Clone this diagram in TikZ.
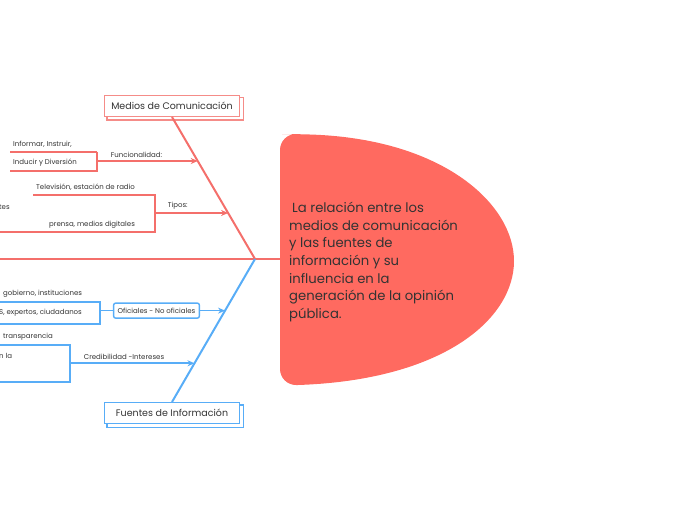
\documentclass[tikz,border=0pt]{standalone}
\usepackage{fontspec}
\setmainfont{Poppins}
\usetikzlibrary{positioning,arrows.meta,calc,backgrounds}
\definecolor{lineR}{HTML}{F46F6B}
\definecolor{boxR}{HTML}{F58C88}
\definecolor{lineB}{HTML}{58ADF7}
\definecolor{fillC}{HTML}{FF6A60}
\definecolor{txt}{HTML}{333333}

\begin{document}
\begin{tikzpicture}[x=1pt,y=-1pt,
  lab/.style={font=\fontsize{7}{8}\selectfont,text=txt,inner sep=0pt},
  cajaR/.style={draw=boxR,line width=1.3pt,fill=white,minimum width=135pt,minimum height=21pt,
    font=\fontsize{9.5}{11}\selectfont,text=txt},
  cajaB/.style={cajaR,draw=lineB},
  lnR/.style={draw=lineR,line width=2pt},
  lnB/.style={draw=lineB,line width=2pt},
  brkR/.style={draw=lineR,line width=1.5pt},
  brkB/.style={draw=lineB,line width=1.5pt},
  arrR/.style={brkR,line width=1.7pt,-{Stealth[length=7pt,width=6pt]}},
  arrB/.style={brkB,line width=1.7pt,-{Stealth[length=7pt,width=6pt]}}]
\useasboundingbox (0,0) rectangle (697,520);

% central topic: flat left side, rounded right side
\fill[fillC] (298,134) .. controls (445,140) and (514,205) .. (514,261)
  .. controls (514,318) and (445,380) .. (298,385)
  [rounded corners=16pt] -- (280,385) -- (280,134) -- cycle;
\node[font=\fontsize{13.2}{17.7}\selectfont,text=txt,align=left,anchor=west,inner sep=0pt]
  (tema) at (289,262) {\hspace{3pt}La relación entre los\\medios de comunicación\\y las fuentes de\\
  información y su\\influencia en la\\generación de la opinión\\pública.};

% spine
\coordinate (inicio) at (0,259);
\coordinate (junta) at (255,259);
\coordinate (cen) at (280,259);
\draw[draw=lineR,line width=2.6pt] (inicio) -- (cen);

% main branches
\node[cajaR,anchor=south] (medios) at (172,117) {Medios de Comunicación};
\node[cajaB,anchor=north] (fuentes) at (172,402) {Fuentes de Información};
\begin{scope}[on background layer]
  \foreach \n/\c in {medios/boxR,fuentes/lineB}
    \draw[draw=\c,line width=1.3pt,fill=white] ([shift={(3,3)}]\n.north west) rectangle ([shift={(3,3)}]\n.south east);
\end{scope}
\draw[lnR] (medios.south) -- (junta);
\draw[lnB] (fuentes.north) -- (junta);

% points on the diagonals
\coordinate (f1) at ($(medios.south)!0.310!(junta)$);
\coordinate (t1) at ($(medios.south)!0.676!(junta)$);
\coordinate (o1) at ($(junta)!0.361!(fuentes.north)$);
\coordinate (c1) at ($(junta)!0.729!(fuentes.north)$);

% Funcionalidad
\coordinate (b1) at (97,0 |- f1);
\draw[brkR] ([yshift=9pt]b1) -| ([yshift=-10pt]b1) -- ([xshift=-87pt,yshift=-10pt]b1);
\draw[brkR] ([yshift=9pt]b1) -- ([xshift=-87pt,yshift=9pt]b1);
\draw[arrR] (b1) -- (f1) node[lab,pos=0,anchor=south west,xshift=13pt,yshift=2.5pt] {Funcionalidad:};
\node[lab,anchor=west] (inf) at (13,144) {Informar, Instruir,};
\node[lab,anchor=west] (ind) at (13,163) {Inducir y Diversión};

% Tipos
\coordinate (b2) at (155,0 |- t1);
\draw[brkR] (33,195) -| (155,232) -- (-2,232);
\draw[arrR] (b2) -- (t1) node[lab,pos=0,anchor=south west,xshift=12pt,yshift=2.5pt] {Tipos:};
\node[lab,anchor=west] (tel) at (36,187) {Televisión, estación de radio};
\node[lab,anchor=west] (tes) at (-1,207) {tes};
\node[lab,anchor=west] (pre) at (49,225) {prensa, medios digitales};

% Oficiales - No oficiales
\draw[brkB] (-2,302) -| (100,324) -- (-2,324);
\node[draw=lineB,line width=1.4pt,rounded corners=2pt,fill=white,lab,inner xsep=4pt,minimum height=15pt]
  (ofic) at (156.5,0 |- o1) {Oficiales - No oficiales};
\coordinate (b3) at (100,0 |- o1);
\draw[brkB] (b3) -- (ofic.west);
\draw[arrB] (ofic.east) -- (o1);
\node[lab,anchor=west] (gob) at (3,294) {gobierno, instituciones};
\node[lab,anchor=west] (exp) at (-1,313) {S, expertos, ciudadanos};

% Credibilidad
\draw[brkB] (-2,345) -| (70,382) -- (-2,382);
\coordinate (b4) at (70,0 |- c1);
\draw[arrB] (b4) -- (c1) node[lab,pos=0,anchor=south west,xshift=13pt,yshift=2.5pt] {Credibilidad -Intereses};
\node[lab,anchor=west] (tra) at (3,337) {transparencia};
\node[lab,anchor=west] (nla) at (-1,356) {n la};
\end{tikzpicture}
\end{document}
